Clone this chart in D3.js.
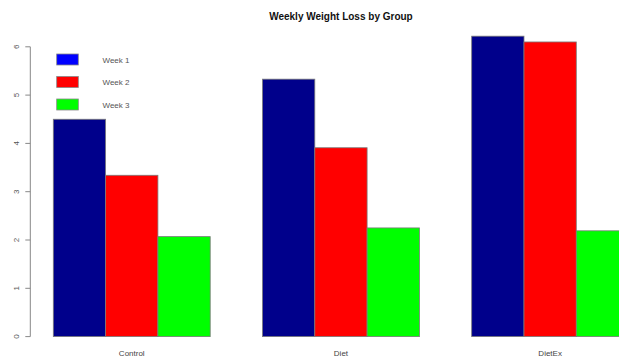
<!DOCTYPE html>
<html><head><meta charset="utf-8">
<script src="https://cdn.jsdelivr.net/npm/d3@7"></script>
<style>body{margin:0;background:#fff}svg{display:block}text{font-family:"Liberation Sans",Arial,sans-serif}</style>
</head><body><svg id="c" width="619" height="358"></svg>
<script>
const groups = ["Control", "Diet", "DietEx"];
const weeks = ["Week 1", "Week 2", "Week 3"];
const week1 = [4.50, 5.33, 6.22];
const week2 = [3.34, 3.91, 6.10];
const week3 = [2.07, 2.25, 2.19];
const yTicks = [0, 1, 2, 3, 4, 5, 6];
const barColors = ["#00008B", "#FF0000", "#00FF00"];
const legendColors = ["#0000FF", "#FF0000", "#00FF00"];
const title = "Weekly Weight Loss by Group";

const series = [week1, week2, week3];
const svg = d3.select("#c");

// x in R barplot units: groups occupy [1,4],[5,8],[9,12]; xlim [0.56,12.44]
const x = d3.scaleLinear().domain([0.56, 12.44]).range([30.3, 651.6]);
const y = d3.scaleLinear().domain([0, 6]).range([336.6, 46.8]);

// bars
groups.forEach((g, gi) => {
  series.forEach((s, si) => {
    const left = 1 + gi * 4 + si;
    svg.append("rect")
      .attr("x", x(left)).attr("y", y(s[gi]))
      .attr("width", x(left + 1) - x(left)).attr("height", y(0) - y(s[gi]))
      .attr("fill", barColors[si]).attr("stroke", "#7a7a7a").attr("stroke-width", 0.8);
  });
  svg.append("text").attr("x", x(1 + gi * 4 + 1.5)).attr("y", 355.5)
    .attr("text-anchor", "middle").attr("font-size", 8).attr("fill", "#444").text(g);
});

// y axis
const ax = svg.append("g").attr("transform", "translate(30.3,0)");
ax.append("line").attr("x1", 0).attr("x2", 0).attr("y1", y(0)).attr("y2", y(6))
  .attr("stroke", "#888").attr("stroke-width", 1);
yTicks.forEach(t => {
  ax.append("line").attr("x1", -5).attr("x2", 0).attr("y1", y(t)).attr("y2", y(t))
    .attr("stroke", "#888").attr("stroke-width", 1);
  ax.append("text").attr("transform", `translate(-11.5,${y(t)}) rotate(-90)`)
    .attr("text-anchor", "middle").attr("font-size", 8).attr("fill", "#555").text(t);
});

// title
svg.append("text").attr("x", x(6.5)).attr("y", 20).attr("text-anchor", "middle")
  .attr("font-size", 10).attr("font-weight", "bold").attr("fill", "#111").text(title);

// legend
weeks.forEach((w, i) => {
  const yy = 54 + i * 22.5;
  svg.append("rect").attr("x", 56.7).attr("y", yy).attr("width", 21.6).attr("height", 11)
    .attr("fill", legendColors[i]).attr("stroke", "#888").attr("stroke-width", 0.8);
  svg.append("text").attr("x", 102.5).attr("y", yy + 8.5).attr("font-size", 8)
    .attr("fill", "#555").text(w);
});
</script></body></html>
